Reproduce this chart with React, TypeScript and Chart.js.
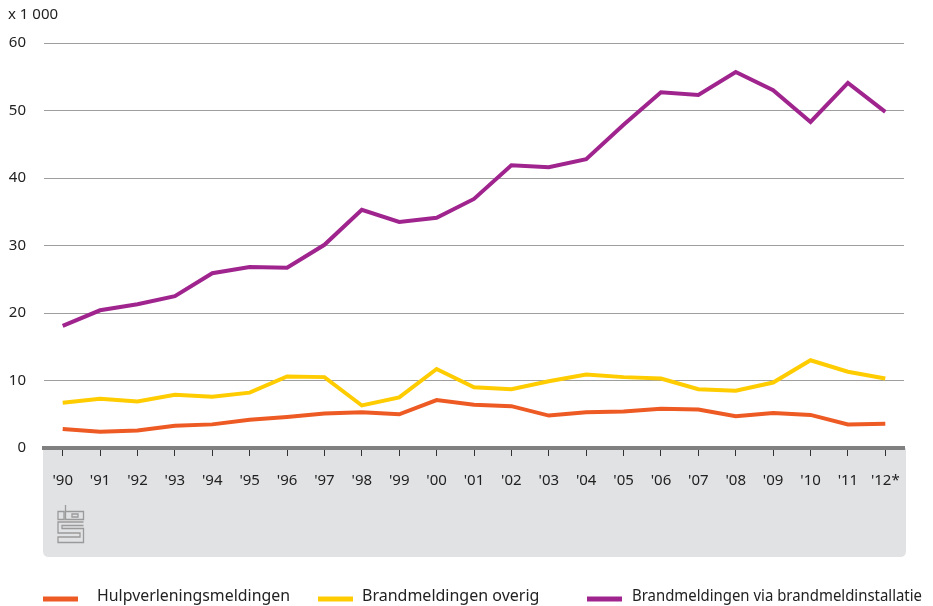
import React, { useEffect, useRef } from "react";
import { Chart, registerables } from "chart.js";

Chart.register(...registerables);

const years = ["'90", "'91", "'92", "'93", "'94", "'95", "'96", "'97", "'98", "'99", "'00", "'01", "'02", "'03", "'04", "'05", "'06", "'07", "'08", "'09", "'10", "'11", "'12*"];
const hulpverlening = [2.8, 2.4, 2.6, 3.3, 3.5, 4.2, 4.6, 5.1, 5.3, 5.0, 7.1, 6.4, 6.2, 4.8, 5.3, 5.4, 5.8, 5.7, 4.7, 5.2, 4.9, 3.5, 3.6];
const brandOverig = [6.7, 7.3, 6.9, 7.9, 7.6, 8.2, 10.6, 10.5, 6.3, 7.5, 11.7, 9.0, 8.7, 9.9, 10.9, 10.5, 10.3, 8.7, 8.5, 9.7, 13.0, 11.3, 10.3];
const brandInstallatie = [18.1, 20.4, 21.3, 22.5, 25.9, 26.8, 26.7, 30.1, 35.3, 33.5, 34.1, 36.9, 41.9, 41.6, 42.8, 47.9, 52.7, 52.3, 55.7, 53.0, 48.3, 54.1, 49.8];
const seriesNames = ["Hulpverleningsmeldingen", "Brandmeldingen overig", "Brandmeldingen via brandmeldinstallatie"];
const seriesColors = ["#ee5a24", "#ffcc00", "#a0248e"];
const unitLabel = "x 1 000";
const yMin = 0;
const yMax = 60;
const yStep = 10;

const FONT = "'Noto Sans', 'Open Sans', sans-serif";

const decorPlugin = {
  id: "decor",
  beforeDraw(chart: any) {
    const ctx = chart.ctx;
    const area = chart.chartArea;
    ctx.save();
    const x0 = 43, x1 = 906, y0 = area.bottom, y1 = 557, r = 6;
    ctx.fillStyle = "#e1e2e4";
    ctx.beginPath();
    ctx.moveTo(x0, y0);
    ctx.lineTo(x1, y0);
    ctx.lineTo(x1, y1 - r);
    ctx.quadraticCurveTo(x1, y1, x1 - r, y1);
    ctx.lineTo(x0 + r, y1);
    ctx.quadraticCurveTo(x0, y1, x0, y1 - r);
    ctx.closePath();
    ctx.fill();

    // CBS logo (simplified)
    ctx.strokeStyle = "#9a9a9a";
    ctx.lineWidth = 1.3;
    ctx.beginPath();
    ctx.rect(58, 511.5, 6, 8);
    ctx.moveTo(65.5, 505);
    ctx.lineTo(65.5, 519.5);
    ctx.lineTo(83.5, 519.5);
    ctx.lineTo(83.5, 511.5);
    ctx.lineTo(65.5, 511.5);
    ctx.rect(72, 514, 6, 3);
    ctx.moveTo(83.5, 522);
    ctx.lineTo(58, 522);
    ctx.lineTo(58, 533);
    ctx.lineTo(80, 533);
    ctx.lineTo(80, 537);
    ctx.lineTo(58, 537);
    ctx.lineTo(58, 542.5);
    ctx.lineTo(83.5, 542.5);
    ctx.lineTo(83.5, 528.5);
    ctx.lineTo(62, 528.5);
    ctx.lineTo(62, 525.5);
    ctx.lineTo(83.5, 525.5);
    ctx.stroke();
    ctx.restore();
  },
  afterDraw(chart: any) {
    const ctx = chart.ctx;
    ctx.save();
    ctx.fillStyle = "#222";
    ctx.font = `15px ${FONT}`;
    ctx.textBaseline = "middle";
    ctx.textAlign = "left";
    ctx.fillText(unitLabel, 8, 15);

    const items = [
      { lx: 43, tx: 97, w: 193 },
      { lx: 318, tx: 362, w: 178 },
      { lx: 587, tx: 632, w: 290 },
    ];
    ctx.font = `16px ${FONT}`;
    chart.data.datasets.forEach((ds: any, i: number) => {
      const it = items[i];
      ctx.strokeStyle = ds.borderColor;
      ctx.lineWidth = 5;
      ctx.beginPath();
      ctx.moveTo(it.lx, 599);
      ctx.lineTo(it.lx + 35, 599);
      ctx.stroke();
      ctx.fillStyle = "#222";
      ctx.fillText(ds.label, it.tx, 596, it.w);
    });
    ctx.restore();
  },
};

export default function App() {
  const ref = useRef<HTMLCanvasElement | null>(null);
  useEffect(() => {
    if (!ref.current) return;
    const data = [hulpverlening, brandOverig, brandInstallatie];
    const chart = new Chart(ref.current, {
      type: "line",
      data: {
        labels: years,
        datasets: data.map((d, i) => ({
          label: seriesNames[i],
          data: d,
          borderColor: seriesColors[i],
          backgroundColor: seriesColors[i],
          borderWidth: 4,
          pointRadius: 0,
          tension: 0,
          fill: false,
        })),
      },
      options: {
        animation: false,
        responsive: false,
        maintainAspectRatio: false,
        layout: { padding: { top: 43, right: 29, left: 0, bottom: 0 } },
        plugins: { legend: { display: false }, tooltip: { enabled: false } },
        scales: {
          x: {
            type: "category",
            offset: true,
            grid: { drawOnChartArea: false, drawTicks: true, tickLength: 8, color: "#333", offset: false },
            border: { display: true, color: "#808080", width: 4 },
            ticks: { color: "#222", font: { family: FONT, size: 15 }, padding: 16, maxRotation: 0, autoSkip: false },
            afterFit: (s: any) => { s.height = 158; },
          },
          y: {
            min: yMin,
            max: yMax,
            border: { display: false },
            grid: { color: "#9e9e9e", lineWidth: 1, drawTicks: false },
            ticks: { stepSize: yStep, color: "#222", font: { family: FONT, size: 15 }, padding: 18 },
            afterFit: (s: any) => { s.width = 44; },
          },
        },
      },
      plugins: [decorPlugin],
    });
    return () => chart.destroy();
  }, []);
  return (
    <div style={{ position: "absolute", left: 0, top: 0, width: 933, height: 606, background: "#fff" }}>
      <canvas ref={ref} width={933} height={606} />
    </div>
  );
}
